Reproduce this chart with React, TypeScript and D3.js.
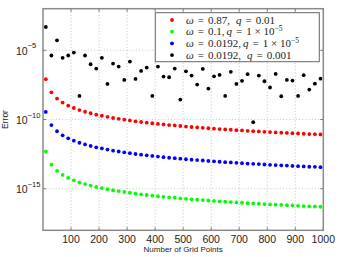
import React from 'react';
import * as d3 from 'd3';

// grid sizes N and log10(error) for each run
const gridPoints = [
  10, 30, 50, 70, 90, 110, 130, 150, 170, 190, 210, 230, 250, 270, 290, 310, 330, 350, 370, 390,
  410, 430, 450, 470, 490, 510, 530, 550, 570, 590, 610, 630, 650, 670, 690, 710, 730, 750, 770, 790,
  810, 830, 850, 870, 890, 910, 930, 950, 970, 990,
];

const redLog = [
  -7.09, -8.04, -8.49, -8.78, -9.0, -9.17, -9.32, -9.44, -9.55, -9.65, -9.73, -9.81, -9.89, -9.95,
  -10.01, -10.07, -10.13, -10.18, -10.23, -10.27, -10.32, -10.36, -10.4, -10.43, -10.47, -10.51,
  -10.54, -10.57, -10.6, -10.63, -10.66, -10.69, -10.72, -10.74, -10.77, -10.79, -10.82, -10.84,
  -10.86, -10.89, -10.91, -10.93, -10.95, -10.97, -10.99, -11.01, -11.03, -11.05, -11.06, -11.08,
];

const greenLog = [
  -12.31, -13.26, -13.71, -14.0, -14.22, -14.39, -14.54, -14.66, -14.77, -14.87, -14.95, -15.03,
  -15.11, -15.17, -15.23, -15.29, -15.35, -15.4, -15.45, -15.49, -15.54, -15.58, -15.62, -15.65,
  -15.69, -15.73, -15.76, -15.79, -15.82, -15.85, -15.88, -15.91, -15.94, -15.96, -15.99, -16.01,
  -16.04, -16.06, -16.08, -16.11, -16.13, -16.15, -16.17, -16.19, -16.21, -16.23, -16.25, -16.27,
  -16.28, -16.3,
];

const blueLog = [
  -9.45, -10.4, -10.85, -11.14, -11.36, -11.53, -11.68, -11.8, -11.91, -12.01, -12.09, -12.17,
  -12.25, -12.31, -12.37, -12.43, -12.49, -12.54, -12.59, -12.63, -12.68, -12.72, -12.76, -12.79,
  -12.83, -12.87, -12.9, -12.93, -12.96, -12.99, -13.02, -13.05, -13.08, -13.1, -13.13, -13.15,
  -13.18, -13.2, -13.22, -13.25, -13.27, -13.29, -13.31, -13.33, -13.35, -13.37, -13.39, -13.41,
  -13.42, -13.44,
];

const blackLog = [
  -3.32, -5.38, -4.28, -5.55, -5.38, -5.17, -8.3, -5.38, -6.01, -6.32, -5.55, -7.43, -5.96, -6.18,
  -7.14, -5.82, -7.07, -6.49, -6.25, -8.3, -6.18, -6.9, -6.95, -6.32, -8.56, -6.52, -6.83, -7.48,
  -6.35, -7.77, -6.88, -6.78, -8.3, -6.56, -7.43, -7.21, -6.73, -10.19, -6.83, -7.24, -7.69, -6.71,
  -8.32, -7.14, -7.19, -8.3, -6.8, -7.84, -7.41, -7.05,
];

const xTicks = [100, 200, 300, 400, 500, 600, 700, 800, 900, 1000];
const yTickExps = [-5, -10, -15];

const series = [
  { color: '#ff0000', values: redLog, omega: '0.87', q: '0.01', qExp: null, gap: 6 },
  { color: '#00ff00', values: greenLog, omega: '0.1', q: '1 × 10', qExp: '−5', gap: 2 },
  { color: '#0000ff', values: blueLog, omega: '0.0192', q: '1 × 10', qExp: '−5', gap: 2 },
  { color: '#000000', values: blackLog, omega: '0.0192', q: '0.001', qExp: null, gap: 6 },
];

const width = 339;
const height = 257;
const margin = { top: 8.7, right: 15.7, bottom: 26.7, left: 43 };

export default function App() {
  const x = d3.scaleLinear().domain([0, 1000]).range([margin.left, width - margin.right]);
  const y = d3.scaleLog().domain([1e-18, 1e-2]).range([height - margin.bottom, margin.top]);
  const [x0, x1] = x.range();
  const [y0, y1] = y.range();
  const sans = 'Liberation Sans, Arial, sans-serif';
  const serif = 'Liberation Serif, Times New Roman, serif';
  const axisColor = '#8a8a8a';
  const sp = 4; // math spacing around "=" in legend

  return (
    <svg width={width} height={height} style={{ position: 'absolute', left: 0, top: 0, background: '#fff' }}>
      {/* dotted grid */}
      <g stroke="#b5b5b5" strokeWidth={0.8} strokeDasharray="1,2.2">
        {xTicks.filter(t => t < 1000).map(t => (
          <line key={'gx' + t} x1={x(t)} x2={x(t)} y1={y0} y2={y1} />
        ))}
        {yTickExps.map(e => (
          <line key={'gy' + e} x1={x0} x2={x1} y1={y(10 ** e)} y2={y(10 ** e)} />
        ))}
      </g>

      {/* ticks */}
      <g stroke="#555" strokeWidth={0.8}>
        {xTicks.map(t => (
          <g key={'tx' + t}>
            <line x1={x(t)} x2={x(t)} y1={y0} y2={y0 - 3} />
            <line x1={x(t)} x2={x(t)} y1={y1} y2={y1 + 3} />
          </g>
        ))}
        {yTickExps.map(e => (
          <g key={'ty' + e}>
            <line x1={x0} x2={x0 + 3} y1={y(10 ** e)} y2={y(10 ** e)} />
            <line x1={x1} x2={x1 - 3} y1={y(10 ** e)} y2={y(10 ** e)} />
          </g>
        ))}
      </g>

      {/* data */}
      {series.map(s => (
        <g key={s.color} fill={s.color}>
          {s.values.map((v, i) => (
            <circle key={i} cx={x(gridPoints[i])} cy={y(10 ** v)} r={1.9} />
          ))}
        </g>
      ))}

      {/* frame */}
      <rect x={x0} y={y1} width={x1 - x0} height={y0 - y1} fill="none" stroke={axisColor} strokeWidth={1.5} />

      {/* tick labels */}
      <g fontFamily={sans} fontSize={10.5} fill="#222">
        {xTicks.map(t => (
          <text key={'lx' + t} x={x(t)} y={y0 + 13} textAnchor="middle">{t}</text>
        ))}
        {yTickExps.map(e => (
          <text key={'ly' + e} x={16} y={y(10 ** e) + 4.5}>
            10<tspan fontSize={7.5} dy={-6.5}>{'−' + Math.abs(e)}</tspan>
          </text>
        ))}
      </g>

      {/* axis titles */}
      <text x={(x0 + x1) / 2} y={252} textAnchor="middle" fontFamily={sans} fontSize={8} fill="#222">
        Number of Grid Points
      </text>
      <text transform={`translate(8,${(y0 + y1) / 2}) rotate(-90)`} textAnchor="middle" fontFamily={sans} fontSize={8.5} fill="#222">
        Error
      </text>

      {/* legend */}
      <g>
        <rect x={155.3} y={12.7} width={164} height={49} fill="#fff" stroke="#666" strokeWidth={1} />
        {series.map((s, i) => {
          const ly = 20 + i * 11.7;
          return (
            <g key={'lg' + i}>
              <circle cx={172} cy={ly} r={1.9} fill={s.color} />
              <text x={186} y={ly + 3.6} fontFamily={serif} fontSize={11} fill="#222">
                <tspan fontStyle="italic">ω</tspan>
                <tspan dx={sp}>=</tspan>
                <tspan dx={sp}>{s.omega + ','}</tspan>
                <tspan dx={s.gap} fontStyle="italic">q</tspan>
                <tspan dx={sp}>=</tspan>
                <tspan dx={sp}>{s.q}</tspan>
                {s.qExp && <tspan fontSize={7.5} dy={-4.5}>{s.qExp}</tspan>}
              </text>
            </g>
          );
        })}
      </g>
    </svg>
  );
}
